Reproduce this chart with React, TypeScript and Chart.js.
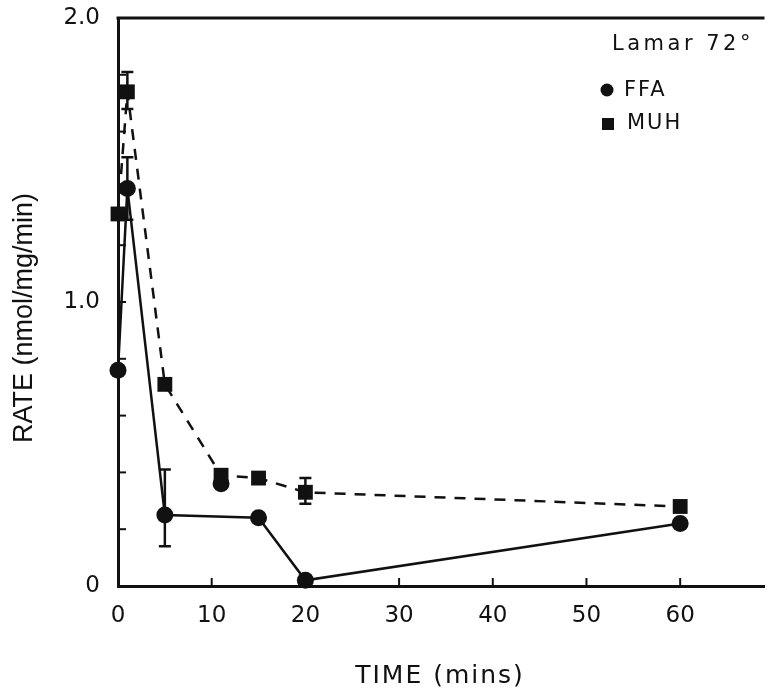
import React, { useEffect, useRef } from 'react';
import { Chart, registerables } from 'chart.js';

Chart.register(...registerables);

// Data
const ffaTimes = [0, 1, 5, 15, 20, 60];
const ffaRates = [0.76, 1.4, 0.25, 0.24, 0.02, 0.22];
const ffaErrLow: (number | null)[] = [null, 1.29, 0.14, null, null, null];
const ffaErrHigh: (number | null)[] = [null, 1.51, 0.41, null, null, null];

const muhTimes = [0, 1, 5, 11, 15, 20, 60];
const muhRates = [1.31, 1.74, 0.71, 0.39, 0.38, 0.33, 0.28];
const muhErrLow: (number | null)[] = [null, 1.68, null, null, null, 0.29, null];
const muhErrHigh: (number | null)[] = [null, 1.81, null, null, null, 0.38, null];

const extraFfaTimes = [11];
const extraFfaRates = [0.36];

const xTickValues = [0, 10, 20, 30, 40, 50, 60];
const yLabelValues = [0, 1, 2];
const yLabelTexts = ['0', '1.0', '2.0'];
const yMinorTicks = [0.2, 0.4, 0.6, 0.8, 1.0, 1.2, 1.4, 1.6, 1.8];

const xTitle = 'TIME (mins)';
const yTitle = 'RATE (nmol/mg/min)';
const headerText = 'Lamar 72°';
const legendNames = ['FFA', 'MUH'];

const INK = '#111';

const overlayPlugin = {
  id: 'overlay',
  afterDatasetsDraw(chart: any) {
    const { ctx, chartArea, scales } = chart;
    const xs = scales.x;
    const ys = scales.y;
    ctx.save();
    ctx.strokeStyle = INK;
    ctx.fillStyle = INK;

    // top border
    ctx.lineWidth = 3;
    ctx.beginPath();
    ctx.moveTo(chartArea.left - 1.5, chartArea.top);
    ctx.lineTo(chartArea.right, chartArea.top);
    ctx.stroke();

    // inward tick marks
    ctx.lineWidth = 2;
    yMinorTicks.forEach((v) => {
      const py = ys.getPixelForValue(v);
      ctx.beginPath();
      ctx.moveTo(chartArea.left, py);
      ctx.lineTo(chartArea.left + 8, py);
      ctx.stroke();
    });
    xTickValues.forEach((v) => {
      const px = xs.getPixelForValue(v);
      ctx.beginPath();
      ctx.moveTo(px, chartArea.bottom);
      ctx.lineTo(px, chartArea.bottom - 8);
      ctx.stroke();
    });

    // error bars
    const drawErr = (times: number[], lo: (number | null)[], hi: (number | null)[]) => {
      ctx.lineWidth = 2.5;
      times.forEach((t, i) => {
        const l = lo[i];
        const h = hi[i];
        if (l == null || h == null) return;
        const px = xs.getPixelForValue(t);
        const pl = ys.getPixelForValue(l);
        const ph = ys.getPixelForValue(h);
        ctx.beginPath();
        ctx.moveTo(px, pl);
        ctx.lineTo(px, ph);
        ctx.moveTo(px - 6, pl);
        ctx.lineTo(px + 6, pl);
        ctx.moveTo(px - 6, ph);
        ctx.lineTo(px + 6, ph);
        ctx.stroke();
      });
    };
    drawErr(ffaTimes, ffaErrLow, ffaErrHigh);
    drawErr(muhTimes, muhErrLow, muhErrHigh);

    // legend block
    ctx.textBaseline = 'middle';
    ctx.textAlign = 'left';
    ctx.font = '21px "DejaVu Sans"';
    (ctx as any).letterSpacing = '3.5px';
    ctx.fillText(headerText, 612, 45);
    (ctx as any).letterSpacing = '2px';
    ctx.beginPath();
    ctx.arc(607, 90, 6.5, 0, Math.PI * 2);
    ctx.fill();
    ctx.fillText(legendNames[0], 624, 91);
    ctx.fillRect(602, 118, 12, 12);
    ctx.fillText(legendNames[1], 627, 124);

    // axis titles
    ctx.textAlign = 'center';
    ctx.font = '25px "DejaVu Sans"';
    (ctx as any).letterSpacing = '2px';
    ctx.fillText(xTitle, 440, 676);

    (ctx as any).letterSpacing = '0px';
    ctx.font = '27px "Liberation Sans"';
    ctx.translate(25, 318);
    ctx.rotate(-Math.PI / 2);
    ctx.fillText(yTitle, 0, 0);
    ctx.restore();
  },
};

export default function App() {
  const canvasRef = useRef<HTMLCanvasElement | null>(null);

  useEffect(() => {
    if (!canvasRef.current) return;
    const chart = new Chart(canvasRef.current, {
      type: 'line',
      data: {
        datasets: [
          {
            label: legendNames[0],
            data: ffaTimes.map((t, i) => ({ x: t, y: ffaRates[i] })),
            borderColor: INK,
            backgroundColor: INK,
            borderWidth: 2.5,
            pointStyle: 'circle',
            pointRadius: 8.5,
            pointBorderWidth: 0,
            tension: 0,
            clip: false as any,
          },
          {
            label: legendNames[1],
            data: muhTimes.map((t, i) => ({ x: t, y: muhRates[i] })),
            borderColor: INK,
            backgroundColor: INK,
            borderWidth: 2.5,
            borderDash: [11, 9],
            pointStyle: 'rect',
            pointRadius: 10.5,
            pointBorderWidth: 0,
            tension: 0,
            clip: false as any,
          },
          {
            label: 'FFA extra',
            data: extraFfaTimes.map((t, i) => ({ x: t, y: extraFfaRates[i] })),
            showLine: false,
            borderColor: INK,
            backgroundColor: INK,
            pointStyle: 'circle',
            pointRadius: 8.5,
            pointBorderWidth: 0,
            clip: false as any,
          },
        ],
      },
      options: {
        animation: false,
        responsive: true,
        maintainAspectRatio: false,
        layout: { padding: { top: 18, right: 0, bottom: 0, left: 0 } },
        plugins: {
          legend: { display: false },
          tooltip: { enabled: false },
        },
        scales: {
          x: {
            type: 'linear',
            min: 0,
            max: 69,
            afterBuildTicks: (scale: any) => {
              scale.ticks = xTickValues.map((v) => ({ value: v }));
            },
            afterFit: (scale: any) => {
              scale.height = 106;
              scale.paddingLeft = 0;
              scale.paddingRight = 0;
            },
            grid: { display: false, drawTicks: false },
            border: { display: true, color: INK, width: 3 },
            ticks: {
              color: INK,
              padding: 16,
              font: { family: 'DejaVu Sans', size: 23 },
              maxRotation: 0,
              autoSkip: false,
              callback: (v: any) => String(v),
            },
          },
          y: {
            type: 'linear',
            min: 0,
            max: 2,
            afterBuildTicks: (scale: any) => {
              scale.ticks = yLabelValues.map((v) => ({ value: v }));
            },
            afterFit: (scale: any) => {
              scale.width = 118;
              scale.paddingTop = 0;
              scale.paddingBottom = 0;
            },
            grid: { display: false, drawTicks: false },
            border: { display: true, color: INK, width: 3 },
            ticks: {
              color: INK,
              padding: 18,
              font: { family: 'DejaVu Sans', size: 23 },
              autoSkip: false,
              callback: (v: any) => {
                const idx = yLabelValues.indexOf(Number(v));
                return idx >= 0 ? yLabelTexts[idx] : '';
              },
            },
          },
        },
      },
      plugins: [overlayPlugin],
    });
    return () => chart.destroy();
  }, []);

  return (
    <div style={{ position: 'fixed', left: 0, top: 0, width: 775, height: 692, background: '#fff' }}>
      <canvas ref={canvasRef} />
    </div>
  );
}
